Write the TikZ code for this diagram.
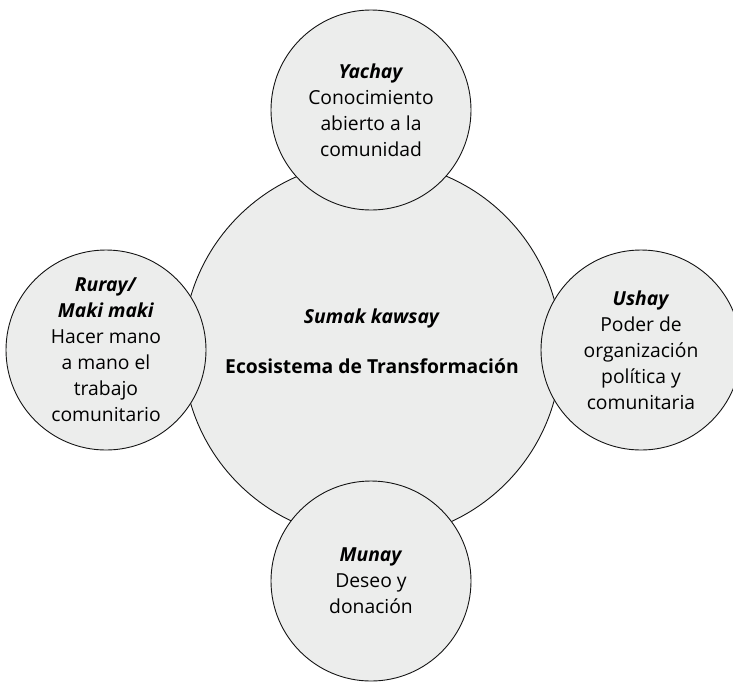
\documentclass[tikz,border=0pt]{standalone}
\usepackage{fontspec}
\setmainfont{Open Sans}
\definecolor{cfill}{RGB}{236,237,236}
\definecolor{cline}{RGB}{20,20,20}
\tikzset{
  circ/.style={circle, draw=cline, fill=cfill, line width=0.9pt, inner sep=0pt,
    minimum size=200pt, align=center, text=black,
    font=\fontsize{19.3}{26}\selectfont},
  bigcirc/.style={circ, minimum size=378pt},
  ctext/.style={align=center, inner sep=0pt, font=\fontsize{19.3}{26}\selectfont}
}
\begin{document}
\begin{tikzpicture}[x=1pt,y=-1pt]
\useasboundingbox (0,0) rectangle (733,681);
\node[bigcirc] (c) at (372,350) {};
\node[ctext] (ct) at (372,341) {\textbf{\textit{Sumak kawsay}}\\[24pt]\textbf{Ecosistema de Transformación}};
\node[circ] (top) at (371,110) {\textbf{\textit{Yachay}}\\Conocimiento\\abierto a la\\comunidad};
\node[circ] (left) at (106,350) {\textbf{\textit{Ruray/}}\\\textbf{\textit{Maki maki}}\\Hacer mano\\a mano el\\trabajo\\comunitario};
\node[circ] (right) at (641,350) {\textbf{\textit{Ushay}}\\Poder de\\organización\\política y\\comunitaria};
\node[circ] (bottom) at (371,581) {\textbf{\textit{Munay}}\\Deseo y\\donación};
\end{tikzpicture}
\end{document}
